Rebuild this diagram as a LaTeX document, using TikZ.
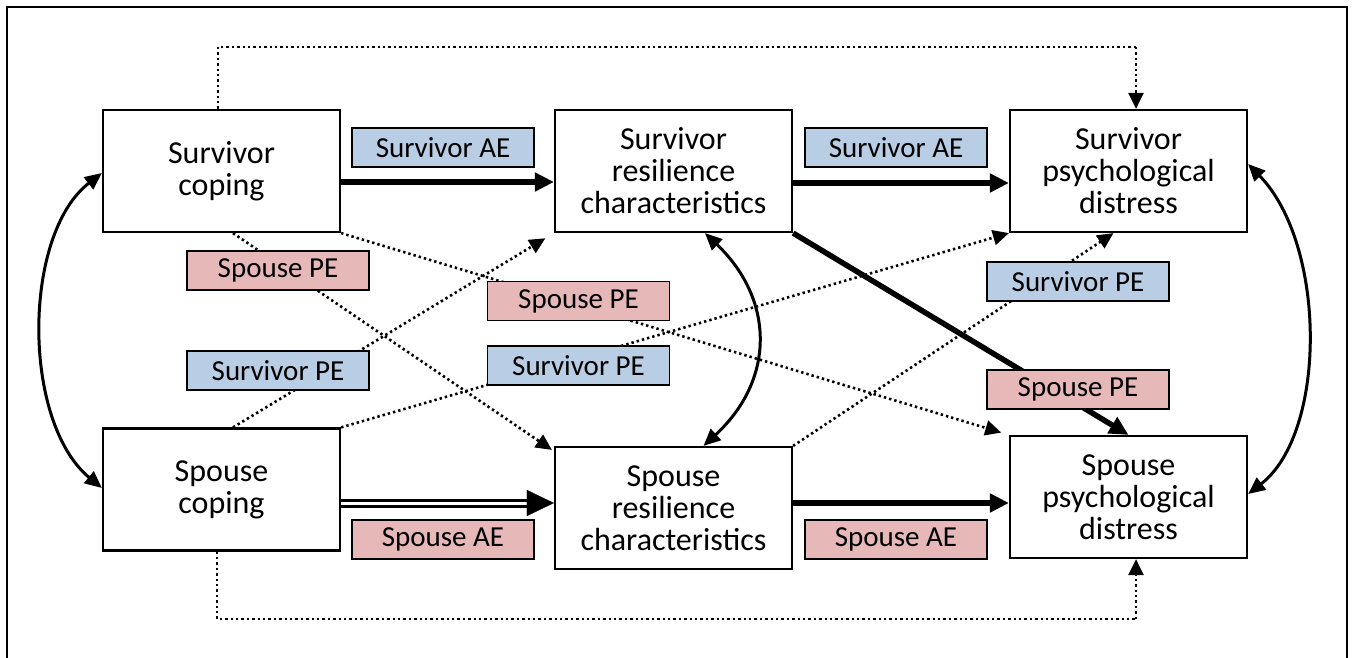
\documentclass[tikz,border=0pt]{standalone}
\usepackage{fontspec}
\setmainfont{Carlito}
\usetikzlibrary{arrows.meta}
\definecolor{blu}{HTML}{B9CDE5}
\definecolor{pnk}{HTML}{E6B9B8}
\begin{document}
\begin{tikzpicture}[x=1pt,y=-1pt,
  box/.style={draw, line width=2.2pt, fill=white, minimum width=237pt, minimum height=122pt,
    align=center, inner sep=0pt, font=\fontsize{32}{32}\selectfont},
  lab/.style={draw, line width=1.8pt, minimum width=182pt, minimum height=39pt,
    inner sep=0pt, font=\fontsize{29}{30}\selectfont},
  blab/.style={lab, fill=blu},
  plab/.style={lab, fill=pnk},
  strong/.style={line width=5.5pt, -{Triangle[length=19pt,width=18pt]}},
  dots/.style={line width=2.6pt, dash pattern=on 2.4pt off 3pt, -{Triangle[length=16pt,width=15pt]}},
  dotline/.style={line width=2.6pt, dash pattern=on 2.4pt off 3pt},
  corr/.style={line width=3pt, {Triangle[length=17pt,width=15pt]}-{Triangle[length=17pt,width=15pt]}},
]
\useasboundingbox (0,0) rectangle (1353,658);
\clip (0,0) rectangle (1353,658);
\draw[line width=2.8pt] (7,670) -- (7,7) -- (1347,7) -- (1347,670);

% boxes
\node[box] (sc) at (221.5,171) {Survivor\\coping};
\node[box] (pc) at (221.5,489.5) {Spouse\\coping};
\node[box] (sr) at (673.5,171) {Survivor\\resilience\\characteristics};
\node[box] (pr) at (673.5,508) {Spouse\\resilience\\characteristics};
\node[box] (sd) at (1128.5,171) {Survivor\\psychological\\distress};
\node[box] (pd) at (1128.5,497) {Spouse\\psychological\\distress};

% solid paths
\draw[strong] ([yshift=-11pt]sc.east) -- ([yshift=-11pt]sr.west);
\draw[strong] ([yshift=-12pt]sr.east) -- ([yshift=-12pt]sd.west);
\draw[strong] ([yshift=5pt]pr.east) -- ([yshift=-6pt]pd.west);
\draw[strong] (sr.south east) -- (pd.north);
% double arrow
\coordinate (dbend) at ([xshift=-26pt,yshift=5pt]pr.west);
\draw[line width=3pt, double=white, double distance=3pt] ([yshift=-13.5pt]pc.east) -- (dbend);
\draw[line width=0.1pt, -{Triangle[length=27pt,width=26pt]}] (dbend) -- ([yshift=5pt]pr.west);

% dotted cross paths
\draw[dots] ([xshift=11.5pt]sc.south) -- ([xshift=-2pt,yshift=-4pt]pr.north west);
\draw[dots, shorten >=8pt] (sc.south east) -- (pd.north west);
\draw[dots, shorten >=10pt] ([xshift=11.5pt]pc.north) -- (sr.south west);
\draw[dots] (pc.north east) -- (sd.south west);
\draw[dots] (pr.north east) -- ([xshift=-15pt]sd.south);

% top and bottom dotted
\coordinate (t1) at (218,47);
\coordinate (t2) at (1136,47);
\draw[dotline] ([xshift=-3.5pt]sc.north) -- (t1) -- (t2);
\draw[dots] (t2) -- ([xshift=7.5pt]sd.north);
\coordinate (b1) at (217,619);
\coordinate (b2) at (1136,619);
\draw[dotline] ([xshift=-4.5pt]pc.south) -- (b1) -- (b2);
\draw[dots] (b2) -- ([xshift=7.5pt]pd.south);

% correlations
\draw[corr] ([yshift=-2pt]sc.west) .. controls (22,235) and (22,422) .. ([yshift=1.5pt]pc.west);
\draw[corr] ([yshift=7pt]sd.east) .. controls (1327,245) and (1327,433) .. ([yshift=3pt]pd.east);
\draw[corr] ([xshift=31.5pt]sr.south) .. controls (775,300) and (775,380) .. ([xshift=30pt]pr.north);

% labels
\node[blab] (l1) at (443,147.5) {Survivor AE};
\node[blab] (l2) at (896,147.5) {Survivor AE};
\node[plab] (l3) at (278,270.5) {Spouse PE};
\node[plab] (l4) at (578.5,301) {Spouse PE};
\node[blab] (l5) at (278,370.5) {Survivor PE};
\node[blab] (l6) at (578.5,365.5) {Survivor PE};
\node[blab] (l7) at (1078,281.5) {Survivor PE};
\node[plab] (l8) at (1078,389.5) {Spouse PE};
\node[plab] (l9) at (443,539.5) {Spouse AE};
\node[plab] (l10) at (896,539.5) {Spouse AE};
\end{tikzpicture}
\end{document}
